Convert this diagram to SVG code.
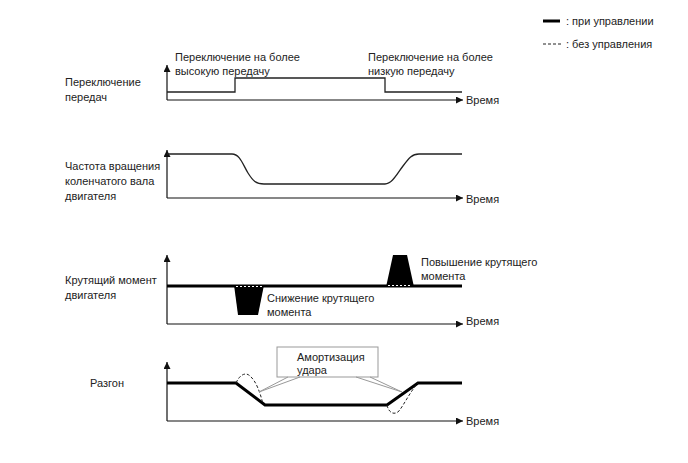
<svg xmlns="http://www.w3.org/2000/svg" width="688" height="463" viewBox="0 0 688 463">
<defs>
<marker id="arr" viewBox="0 0 10 10" refX="10" refY="5" markerWidth="10" markerHeight="7" markerUnits="userSpaceOnUse" orient="auto"><path d="M0,0 L10,5 L0,10 Z" fill="#111"/></marker>
</defs>
<style>
text{font-family:"Liberation Sans",Arial,sans-serif;font-size:11px;fill:#222}
.ax{stroke:#111;stroke-width:1.2;fill:none;marker-end:url(#arr)}
.sig{stroke:#222;stroke-width:1.3;fill:none}
.thick{stroke:#000;stroke-width:3;fill:none;stroke-linejoin:miter}
.dash{stroke:#222;stroke-width:1;fill:none;stroke-dasharray:3,2}
.wdash{stroke:#fff;stroke-width:1;fill:none;stroke-dasharray:2,2}
.call{stroke:#999;stroke-width:1;fill:none}
</style>
<rect width="688" height="463" fill="#fff"/>
<g id="legend">
<line x1="543" y1="21" x2="560" y2="21" stroke="#000" stroke-width="3"/>
<text x="566" y="25">: при управлении</text>
<line x1="543" y1="44" x2="561" y2="44" class="dash"/>
<text x="566" y="48">: без управления</text>
</g>
<g id="connectors">
<path class="ax" d="M167,100 V65"/><path class="ax" d="M167,100 H463"/>
<path class="ax" d="M167,198 V150"/><path class="ax" d="M167,198 H463"/>
<path class="ax" d="M167,324 V255"/><path class="ax" d="M167,324 H463"/>
<path class="ax" d="M167,421 V362"/><path class="ax" d="M167,421 H463"/>
</g>
<g id="panel-shift">
<text x="65" y="86">Переключение</text>
<text x="65" y="101">передач</text>
<text x="175" y="61">Переключение на более</text>
<text x="175" y="75">высокую передачу</text>
<text x="368" y="61">Переключение на более</text>
<text x="368" y="75">низкую передачу</text>
<path class="sig" d="M167,92 H235 V78 H385 V92 H462"/>
<text x="466" y="104">Время</text>
</g>
<g id="panel-rpm">
<text x="65" y="170">Частота вращения</text>
<text x="65" y="185">коленчатого вала</text>
<text x="65" y="200">двигателя</text>
<path class="sig" d="M167,154 H232 C240,154 243,165 248,173 C253,181 256,184 264,184 H385 C392,184 397,174 403,166 C409,158 412,154 419,154 H462"/>
<text x="466" y="203">Время</text>
</g>
<g id="panel-torque">
<text x="65" y="284">Крутящий момент</text>
<text x="65" y="299">двигателя</text>
<path class="thick" d="M167,286 H462"/>
<path d="M234,285 L264,285 L258,315 L238,315 Z" fill="#000"/>
<path d="M386,287 L414,287 L407,255 L393,255 Z" fill="#000"/>
<path class="wdash" d="M236,286.5 H262"/>
<path class="wdash" d="M388,285.5 H412"/>
<text x="267" y="302">Снижение крутящего</text>
<text x="267" y="316">момента</text>
<text x="421" y="266">Повышение крутящего</text>
<text x="421" y="280">момента</text>
<text x="466" y="325">Время</text>
</g>
<g id="panel-accel">
<text x="90" y="387">Разгон</text>
<path class="thick" d="M167,383 H236 L265,405 H387 L418,383 H462"/>
<path class="dash" d="M236,383 C240,374 246,372 250,376 C256,381 260,392 263,404"/>
<path class="dash" d="M387,405 C389,414 395,415 399,411 C405,403 410,392 418,383"/>
<g id="callout">
<rect x="277" y="347" width="101" height="30" fill="#fff" stroke="#999" stroke-width="1"/>
<text x="297" y="361">Амортизация</text>
<text x="297" y="374">удара</text>
<path class="call" d="M288,377 L259,392 M300,377 L259,392"/>
<path class="call" d="M356,377 L402,392 M370,377 L402,392"/>
</g>
<text x="466" y="425">Время</text>
</g>
</svg>
